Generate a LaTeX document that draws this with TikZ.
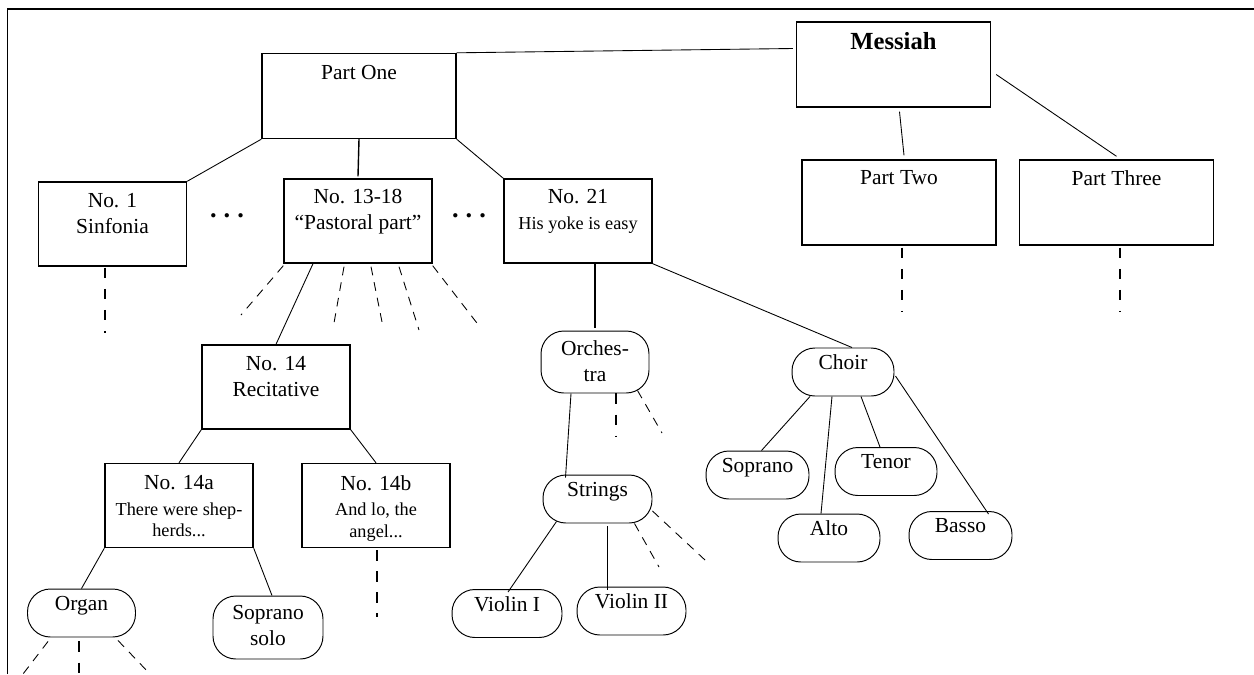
\documentclass[tikz,border=0pt]{standalone}
\usepackage{fontspec}
\setmainfont{Liberation Serif}
\usetikzlibrary{positioning, calc}
\newcommand{\smalltext}{\fontsize{10.4}{12.1}\selectfont}

\begin{document}
\begin{tikzpicture}[x = 0.02cm, y = -0.02cm,
		font = \fontsize{12.2}{14.6}\selectfont,
		part/.style = { draw, line width = 0.8pt, minimum width = 3.88cm, minimum height = 1.7cm },
		numbox/.style = { draw, line width = 0.8pt, minimum width = 2.96cm, minimum height = 1.68cm },
		voice/.style = { draw, line width = 0.55pt, rounded corners = 13pt, minimum width = 2.16cm, minimum height = 0.96cm },
		txt/.style = { inner sep = 0pt, align = center },
		dots/.style = { inner sep = 0pt, font = \fontsize{15}{15}\selectfont\bfseries },
		link/.style = { line width = 0.5pt },
		trunk/.style = { line width = 0.8pt },
		stub/.style = { line width = 0.5pt, dash pattern = on 5pt off 4pt },
		stubthick/.style = { line width = 0.8pt, dash pattern = on 6pt off 6pt }]
		\useasboundingbox (0, 0) rectangle (1254, 674);
		\draw [line width = 1pt] (7.5, 674) -- (7.5, 9.3) -- (1254, 9.3);

		% work and its three parts
		\node [part] (msg) at (893.5, 64.5) {};
		\node [txt, font = \fontsize{14}{16}\selectfont\bfseries, below = 6pt of msg.north] (msgt) {Messiah};
		\node [part] (p1) at (359, 96) {};
		\node [txt, below = 6.8pt of p1.north] (p1t) {Part One};
		\node [part] (pt2) at (899, 202.5) {};
		\node [txt, below = 6.2pt of pt2.north] (pt2t) {Part Two};
		\node [part] (pt3) at (1116.5, 202.5) {};
		\node [txt, below = 6.2pt of pt3.north] (pt3t) {Part Three};

		% numbers of part one
		\node [numbox] (n1) at (112.5, 224) {};
		\node [txt, below = 6.6pt of n1.north] (n1t) {No. 1\\Sinfonia};
		\node [dots] (gap1) at (227, 216) {.\hspace{4pt}.\hspace{4pt}.};
		\node [numbox] (n13) at (358, 221) {};
		\node [txt, below = 6.2pt of n13.north] (n13t) {No. 13-18\\“Pastoral part”};
		\node [dots] (gap2) at (469, 216) {.\hspace{4pt}.\hspace{4pt}.};
		\node [numbox] (n21) at (578, 221) {};
		\node [txt, below = 6.2pt of n21.north] (n21t) {No. 21\\{\smalltext His yoke is easy}};

		\node [numbox] (n14) at (276, 387) {};
		\node [txt, below = 6.6pt of n14.north] (n14t) {No. 14\\Recitative};
		\node [numbox] (n14a) at (179, 505.5) {};
		\node [txt, below = 7pt of n14a.north] (n14at) {No. 14a\\{\smalltext There were shep-}\\[-2.5pt]{\smalltext herds...}};
		\node [numbox] (n14b) at (376, 505.5) {};
		\node [txt, below = 7pt of n14b.north] (n14bt) {No. 14b\\{\smalltext And lo, the}\\[-2.5pt]{\smalltext angel...}};

		% performers
		\node [voice] (org) at (81.5, 613) {};
		\node [txt, below = 4.3pt of org.north] (orgt) {Organ};
		\node [voice, minimum width = 2.2cm, minimum height = 1.26cm] (sol) at (268, 627.5) {};
		\node [txt, below = 5.5pt of sol.north] (solt) {Soprano\\solo};
		\node [voice, minimum height = 1.24cm] (orc) at (595, 362) {};
		\node [txt, below = 5.5pt of orc.north] (orct) {Orches-\\tra};
		\node [voice, minimum width = 2.18cm] (str) at (597.5, 499) {};
		\node [txt, below = 4pt of str.north] (strt) {Strings};
		\node [voice, minimum width = 2.2cm] (vl1) at (507, 613.5) {};
		\node [txt, below = 4.3pt of vl1.north] (vl1t) {Violin I};
		\node [voice, minimum width = 2.18cm] (vl2) at (631.5, 611) {};
		\node [txt, below = 4pt of vl2.north] (vl2t) {Violin II};
		\node [voice, minimum width = 2.04cm] (ch) at (843, 372) {};
		\node [txt, below = 4pt of ch.north] (cht) {Choir};
		\node [voice, minimum width = 2.06cm] (sop) at (757.5, 475) {};
		\node [txt, below = 4pt of sop.north] (sopt) {Soprano};
		\node [voice, minimum width = 2.04cm] (ten) at (886, 471.5) {};
		\node [txt, below = 4.3pt of ten.north] (tent) {Tenor};
		\node [voice, minimum width = 2.04cm] (alt) at (829, 538) {};
		\node [txt, below = 4pt of alt.north] (altt) {Alto};
		\node [voice, minimum width = 2.06cm] (bas) at (960.5, 535.5) {};
		\node [txt, below = 4pt of bas.north] (bast) {Basso};

		% free ends of the elided branches
		\coordinate (n1end) at (105, 333);
		\coordinate (pt2end) at (902, 312);
		\coordinate (pt3end) at (1120, 312);
		\coordinate (f1) at (241, 315);
		\coordinate (f2) at (334, 323);
		\coordinate (f3) at (383, 327);
		\coordinate (f4) at (419, 330);
		\coordinate (f5) at (480, 327);
		\coordinate (n14bend) at (377, 617);
		\coordinate (o1) at (23, 674);
		\coordinate (o2) at (79, 674);
		\coordinate (o3) at (150, 674);
		\coordinate (c1) at (616, 436);
		\coordinate (c2) at (662, 433);
		\coordinate (s1) at (659, 567);
		\coordinate (s2) at (705, 560);

		\draw [link] (p1.north east) -- ($(msg.west) + (-3, -16)$);
		\draw [link] ($(msg.south) + (6, 4)$) -- ($(pt2.north) + (5, -4)$);
		\draw [link] ($(msg.east) + (5, 10)$) -- ($(pt3.north) + (0, -3)$);
		\draw [link] (p1.south west) -- (n1.north east);
		\draw [trunk] (p1.south) -- ($(n13.north) + (0, -2)$);
		\draw [link] (p1.south east) -- (n21.north west);
		\draw [link] ($(n13.south) + (-45, 0)$) -- (n14.north);
		\draw [trunk] (orc.north |- n21.south) -- ($(orc.north) + (0, -3)$);
		\draw [link] (n21.south east) -- ($(ch.north) + (9, 0)$);
		\draw [link] (n14.south west) -- (n14a.north);
		\draw [link] (n14.south east) -- (n14b.north);
		\draw [link] (n14a.south west) -- (org.north);
		\draw [link] (n14a.south east) -- ($(sol.north) + (4, 0)$);
		\draw [link] ($(orc.south) + (-24, 0)$) -- ($(str.north) + (-32, 3)$);
		\draw [link] ($(str.south) + (-41, -2)$) -- ($(vl1.north) + (1, 3)$);
		\draw [trunk] ($(str.south) + (10, 3)$) -- ($(vl2.north) + (-24, 3)$);
		\draw [link] ($(ch.south) + (-33, 0)$) -- ($(sop.north) + (4, 0)$);
		\draw [link] ($(ch.south) + (-11, 0)$) -- ($(alt.north) + (-8, 0)$);
		\draw [link] ($(ch.south) + (18, 0)$) -- ($(ten.north) + (-6, 0)$);
		\draw [link] ($(ch.east) + (1, 4)$) -- ($(bas.north) + (28, 3)$);

		\draw [stubthick] ($(n1end |- n1.south) + (0, 1)$) -- (n1end);
		\draw [stubthick] ($(pt2end |- pt2.south) + (0, 2)$) -- (pt2end);
		\draw [stubthick] ($(pt3end |- pt3.south) + (0, 2)$) -- (pt3end);
		\draw [stub] ($(n13.south west) + (0, 2)$) -- (f1);
		\draw [stub] ($(n13.south) + (-14, 3)$) -- (f2);
		\draw [stub] ($(n13.south) + (13, 3)$) -- (f3);
		\draw [stub] ($(n13.south) + (41, 3)$) -- (f4);
		\draw [stub] ($(n13.south east) + (0, 2)$) -- (f5);
		\draw [stubthick] ($(n14bend |- n14b.south) + (0, 2)$) -- (n14bend);
		\draw [stub] ($(org.south) + (-33.5, 4)$) -- (o1);
		\draw [stubthick] ($(o2 |- org.south) + (0, 4)$) -- (o2);
		\draw [stub] ($(org.south) + (36.5, 3)$) -- (o3);
		\draw [stubthick] (c1 |- orc.south) -- (c1);
		\draw [stub] ($(orc.south east) + (-12, -3)$) -- (c2);
		\draw [stub] ($(str.south east) + (-18, 0)$) -- (s1);
		\draw [stub] ($(str.east) + (0, 12)$) -- (s2);
	\end{tikzpicture}
\end{document}
